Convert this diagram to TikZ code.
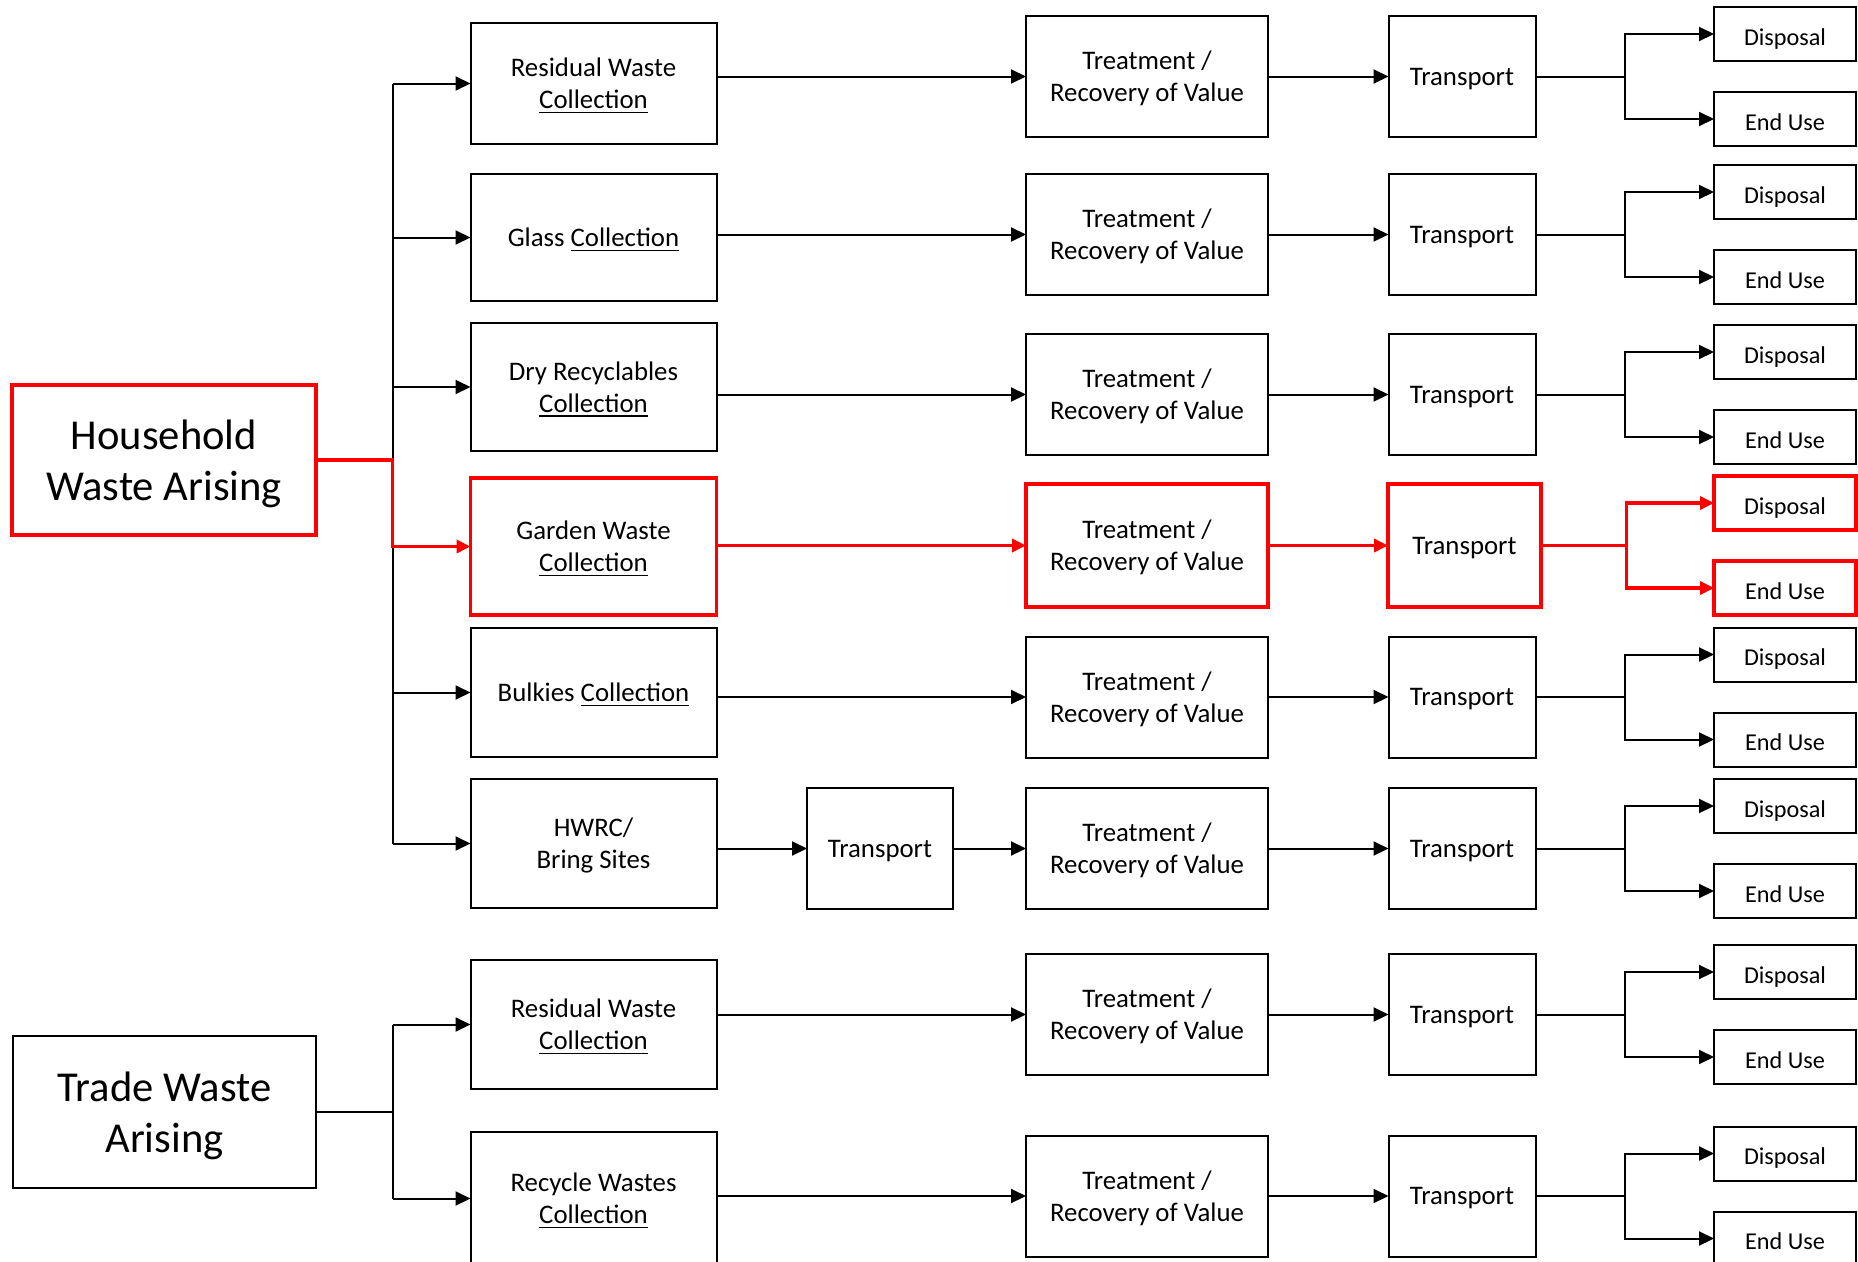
\documentclass[tikz,border=0pt]{standalone}
\usepackage{fontspec}
\setmainfont{Carlito}
\usetikzlibrary{arrows.meta}
\newsavebox\ulbox
\newcommand\ulc[1]{\sbox\ulbox{#1}\rlap{\rule[-4.5pt]{\wd\ulbox}{1.8pt}}\usebox\ulbox}
\tikzset{
  box/.style={draw, line width=2pt, inner sep=0pt, outer sep=0pt, align=center, text depth=0pt, font=\fontsize{26.8}{32}\selectfont},
  colbox/.style={box, minimum width=246pt},
  small/.style={box, minimum width=142pt, minimum height=54pt, text height=22pt, font=\fontsize{24.2}{28}\selectfont},
  bigbox/.style={box, font=\fontsize{42.6}{51.5}\selectfont},
  hot/.style={draw=red, line width=3.5pt},
  conn/.style={line width=2pt},
  arr/.style={conn, -{Triangle[length=15pt,width=14pt]}},
  redconn/.style={draw=red, line width=3.5pt},
  redarr/.style={redconn, -{Triangle[length=14pt,width=13pt]}},
}
\newcommand\rowtail[2]{%
  \node[box, minimum width=242pt, minimum height=121pt] (t#1) at (1147,#2) {Treatment /\\Recovery of Value};
  \node[box, minimum width=147pt, minimum height=121pt] (p#1) at (1462,#2) {Transport};
  \node[small] (d#1) at (1785,{#2-42.5}) {Disposal};
  \node[small] (e#1) at (1785,{#2+42.5}) {End Use};
  \coordinate (s#1) at (1625,#2);
  \draw[arr] (t#1.east) -- (p#1.west);
  \draw[conn] (p#1.east) -- (s#1);
  \draw[arr] (s#1) |- (d#1.west);
  \draw[arr] (s#1) |- (e#1.west);
}
\begin{document}
\begin{tikzpicture}[x=1pt,y=-1pt]
\useasboundingbox (0,0) rectangle (1858,1261);
\clip (0,0) rectangle (1858,1261);
\fill[white] (0,0) rectangle (1858,1261);

% sources
\node[bigbox, hot, minimum width=304pt, minimum height=150pt] (hh) at (164,460) {Household\\Waste Arising};
\node[bigbox, minimum width=303pt, minimum height=152pt] (tr) at (164.5,1112) {Trade Waste\\Arising};

% collection boxes
\node[colbox, minimum height=121pt] (c1) at (593.5,83.5) {Residual Waste\\\ulc{Collection}};
\node[colbox, minimum height=127pt] (c2) at (593.5,237.5) {Glass \ulc{Collection}};
\node[colbox, minimum height=128pt] (c3) at (593.5,387) {Dry Recyclables\\\ulc{Collection}};
\node[colbox, hot, minimum height=137pt] (c4) at (593.5,546.5) {Garden Waste\\\ulc{Collection}};
\node[colbox, minimum height=129pt] (c5) at (593.5,692.5) {Bulkies \ulc{Collection}};
\node[colbox, minimum height=129pt] (c6) at (593.5,843.5) {HWRC/\\Bring Sites};
\node[colbox, minimum height=129pt] (c7) at (593.5,1024.5) {Residual Waste\\\ulc{Collection}};
\node[colbox, minimum height=134pt] (c8) at (593.5,1198.5) {Recycle Wastes\\\ulc{Collection}};

% HWRC intermediate transport
\node[box, minimum width=146pt, minimum height=121pt] (hp) at (880,848.5) {Transport};

% tails
\rowtail{1}{76.5}
\rowtail{2}{234.5}
\rowtail{3}{394.5}
\rowtail{5}{697}
\rowtail{6}{848.5}
\rowtail{7}{1014.5}
\rowtail{8}{1196}

% garden (highlighted) tail
\node[box, hot, minimum width=242pt, minimum height=123pt] (t4) at (1147,545.5) {Treatment /\\Recovery of Value};
\node[box, hot, minimum width=153pt, minimum height=123pt] (p4) at (1464.5,545.5) {Transport};
\node[small, hot] (d4) at (1785,503) {Disposal};
\node[small, hot] (e4) at (1785,588) {End Use};
\coordinate (s4) at (1626.5,545.5);

% household trunk
\coordinate (tx) at (392.5,0);
\draw[conn] (c1.west -| tx) -- (c6.west -| tx);
\foreach \i in {1,2,3,5,6} { \draw[arr] (c\i.west -| tx) -- (c\i.west); }

% trade trunk
\draw[conn] (tr.east) -- (tr.east -| tx);
\draw[conn] (c7.west -| tx) -- (c8.west -| tx);
\foreach \i in {7,8} { \draw[arr] (c\i.west -| tx) -- (c\i.west); }

% collection -> treatment
\foreach \i in {1,2,3,5,7,8} { \draw[arr] (t\i.west -| c\i.east) -- (t\i.west); }
\draw[arr] (hp.west -| c6.east) -- (hp.west);
\draw[arr] (hp.east) -- (t6.west);

% highlighted path
\draw[redarr] (hh.east) -- (hh.east -| tx) |- (c4.west);
\draw[redarr] (t4.west -| c4.east) -- (t4.west);
\draw[redarr] (t4.east) -- (p4.west);
\draw[redconn] (p4.east) -- (s4);
\draw[redarr] (s4) |- (d4.west);
\draw[redarr] (s4) |- (e4.west);
\end{tikzpicture}
\end{document}
